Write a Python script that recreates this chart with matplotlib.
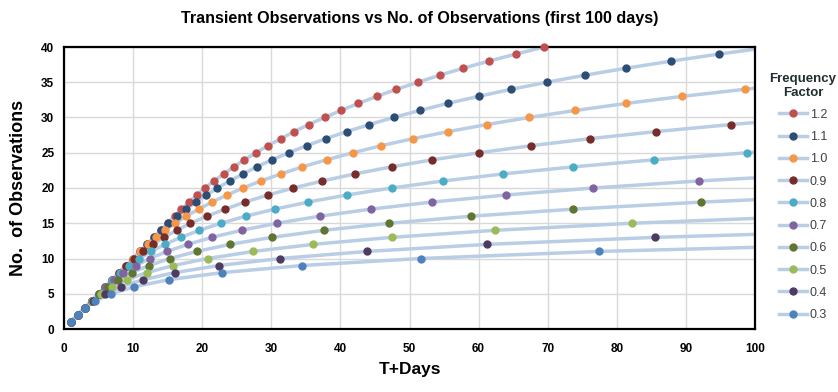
import numpy as np
import matplotlib
matplotlib.use("Agg")
import matplotlib.pyplot as plt
from matplotlib.lines import Line2D

plt.rcParams["font.family"] = ["Liberation Sans", "DejaVu Sans"]

# observation days per frequency factor (last value of each list lies past the axes)
days_12 = [1, 2, 3, 4, 5, 6, 7, 8, 9, 10, 11, 12, 13, 14, 15, 16, 17.0, 18.1, 19.2, 20.4,
           21.7, 23.1, 24.6, 26.1, 27.8, 29.5, 31.4, 33.3, 35.4, 37.7, 40.1, 42.6, 45.3, 48.1,
           51.2, 54.4, 57.8, 61.5, 65.4, 69.5, 73.9]
days_11 = [1, 2, 3, 4, 5, 6, 7, 8, 9, 10, 11, 12, 13, 14.0, 15.1, 16.4, 17.6, 19.1, 20.6,
           22.2, 24.0, 25.9, 27.9, 30.1, 32.5, 35.1, 37.9, 40.9, 44.2, 47.7, 51.5, 55.5, 60.0,
           64.7, 69.9, 75.4, 81.4, 87.9, 94.8, 102.4]
days_10 = [1, 2, 3, 4, 5, 6, 7, 8, 9, 10, 11.0, 12.1, 13.3, 14.6, 16.1, 17.7, 19.5, 21.4,
           23.6, 25.9, 28.5, 31.4, 34.5, 38.0, 41.8, 45.9, 50.5, 55.6, 61.2, 67.3, 74.0, 81.4,
           89.5, 98.5, 108.3]
days_09 = [1, 2, 3, 4, 5, 6, 7, 8, 9.0, 10.1, 11.4, 12.9, 14.5, 16.3, 18.3, 20.7, 23.3,
           26.2, 29.5, 33.2, 37.4, 42.1, 47.4, 53.3, 60.1, 67.6, 76.1, 85.7, 96.5, 108.6]
days_08 = [1, 2, 3, 4, 5, 6, 7, 8.1, 9.4, 10.9, 12.6, 14.6, 16.9, 19.6, 22.7, 26.3, 30.5,
           35.3, 40.9, 47.4, 54.9, 63.6, 73.7, 85.4, 98.9, 114.6]
days_07 = [1, 2, 3, 4, 5, 6, 7.2, 8.6, 10.4, 12.4, 14.9, 17.9, 21.4, 25.7, 30.8, 37.0, 44.4,
           53.2, 63.9, 76.6, 91.9, 110.2]
days_06 = [1, 2, 3, 4, 5.0, 6.3, 7.8, 9.8, 12.3, 15.3, 19.2, 24.0, 30.1, 37.6, 47.1, 58.9,
           73.7, 92.2, 115.3]
days_05 = [1, 2, 3, 4, 5.3, 6.9, 9.1, 12.0, 15.8, 20.8, 27.4, 36.0, 47.4, 62.4, 82.2, 108.2]
days_04 = [1, 2, 3, 4.2, 5.9, 8.2, 11.5, 16.0, 22.4, 31.3, 43.8, 61.2, 85.6, 119.7]
days_03 = [1, 2, 3.0, 4.5, 6.8, 10.2, 15.2, 22.9, 34.4, 51.6, 77.4, 116.2]

factors = ["1.2", "1.1", "1.0", "0.9", "0.8", "0.7", "0.6", "0.5", "0.4", "0.3"]
series = [days_12, days_11, days_10, days_09, days_08, days_07, days_06, days_05, days_04, days_03]
colors = ["#C0504D", "#2C4D75", "#F79646", "#772C2A", "#4BACC6",
          "#8064A2", "#5F7530", "#9BBB59", "#4D3B62", "#4F81BD"]
line_col = "#B9CDE5"

fig = plt.figure(figsize=(8.38, 3.92), dpi=100)
ax = fig.add_axes([64 / 838, 1 - 329 / 392, (755 - 64) / 838, (329 - 47) / 392])

for days, col in zip(series, colors):
    x = np.array(days, dtype=float)
    y = np.arange(1, len(x) + 1)
    ax.plot(x, y, color=line_col, lw=2.5, solid_capstyle="round", zorder=2)
    vis = (x <= 100) & (y <= 40)
    ax.plot(x[vis], y[vis], ls="none", marker="o", ms=5, mfc=col, mec=col,
            clip_on=False, zorder=3)

ax.set_xlim(0, 100)
ax.set_ylim(0, 40)
ax.set_xticks(np.arange(0, 101, 10))
ax.set_yticks(np.arange(0, 41, 5))
ax.grid(True, color="#D9D9D9", lw=1)
ax.set_axisbelow(True)
for s in ax.spines.values():
    s.set_color("black")
    s.set_linewidth(1.6)
ax.tick_params(length=0, labelsize=8.5)
ax.tick_params(axis="x", pad=10)
ax.tick_params(axis="y", pad=7)
for lab in ax.get_xticklabels() + ax.get_yticklabels():
    lab.set_fontweight("bold")

ax.set_xlabel("T+Days", fontsize=12.5, fontweight="bold", labelpad=5)
ax.set_ylabel("No.  of Observations", fontsize=13, fontweight="bold", labelpad=10)
title = fig.text(420 / 838, 1 - 18 / 392,
                 "Transient Observations vs No. of Observations (first 100 days)",
                 ha="center", va="center", fontsize=12, fontweight="bold")

handles = [Line2D([], [], color=line_col, lw=2.5, marker="o", ms=5, mfc=c, mec=c)
           for c in colors]
leg = fig.legend(handles, factors, loc="upper center", bbox_to_anchor=(803 / 838, 1 - 64 / 392),
                 frameon=False, fontsize=9, labelspacing=0.82, handlelength=2.3,
                 handletextpad=0.2, borderpad=0.2, title="Frequency\nFactor",
                 title_fontproperties={"weight": "bold", "size": 9.5})
for t in leg.get_texts():
    t.set_color("#404040")
leg.get_title().set_color("#1F2F2F")
leg.get_title().set_multialignment("center")

# shrink title to the width it has in the reference
fig.canvas.draw()
w = title.get_window_extent().width
title.set_fontsize(12 * 474 / w)

fig.savefig("out.png", dpi=100)
